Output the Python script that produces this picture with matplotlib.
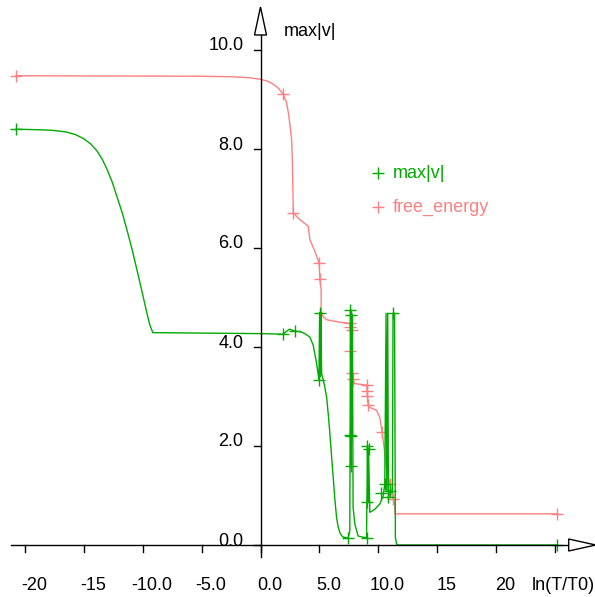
import matplotlib
matplotlib.use("Agg")
import matplotlib.pyplot as plt
from matplotlib.patches import Polygon

plt.rcParams['font.family'] = ['Liberation Sans', 'DejaVu Sans']

GREEN = '#00aa00'
PINK = '#ff8080'

# ---------------- DATA ----------------
x_ticks = [-20, -15, -10, -5, 0, 5, 10, 15, 20, 25]
x_tick_labels = ["-20", "-15", "-10.0", "-5.0", "0.0", "5.0", "10.0", "15", "20", ""]
y_ticks = [0, 2, 4, 6, 8, 10]
y_tick_labels = ["0.0", "2.0", "4.0", "6.0", "8.0", "10.0"]

# max|v| line
maxv_x = [-20.75, -19.0, -17.84, -17.0, -16.42, -15.7, -15.02, -14.4, -13.88, -13.45,
          -13.03, -12.6, -12.19, -11.75, -11.34, -10.9, -10.49, -10.05, -9.64, -9.40,
          -9.14, 0.04, 1.65, 1.91, 2.45, 2.92, 3.35, 3.77, 4.19, 4.47,
          4.76, 4.96, 5.02, 5.08, 5.12, 5.19, 5.32, 5.45, 5.61, 5.75,
          5.89, 6.03, 6.17, 6.31, 6.46, 6.60, 6.74, 6.88, 7.02, 7.44,
          7.58, 7.64, 7.68, 7.72, 7.76, 7.80, 7.86, 8.01, 8.29, 8.86,
          9.00, 9.08, 9.12, 9.17, 9.28, 9.70, 10.13, 10.41, 10.55, 10.66,
          10.72, 10.80, 10.86, 10.97, 11.20, 11.25, 11.38, 11.45, 11.57, 25.19]
maxv_y = [8.40, 8.39, 8.38, 8.36, 8.34, 8.29, 8.21, 8.10, 7.96, 7.80,
          7.59, 7.34, 7.04, 6.72, 6.37, 5.97, 5.56, 5.11, 4.68, 4.45,
          4.29, 4.27, 4.26, 4.26, 4.36, 4.32, 4.31, 4.27, 4.20, 4.04,
          3.67, 3.34, 4.70, 3.40, 4.70, 3.46, 3.34, 3.20, 2.99, 2.65,
          2.25, 1.80, 1.37, 0.93, 0.55, 0.36, 0.25, 0.19, 0.16, 0.14,
          0.28, 4.72, 1.60, 4.70, 2.20, 4.65, 0.76, 0.42, 0.18, 0.15,
          0.15, 2.01, 0.86, 1.95, 0.66, 0.72, 0.83, 0.99, 1.23, 4.68,
          1.10, 4.68, 0.96, 1.10, 1.05, 4.68, 4.68, 0.15, 0.00, 0.00]
# max|v| sample points
maxv_mx = [-20.75, 1.91, 2.92, 4.96, 5.05, 7.44, 7.64, 7.72, 7.64, 7.72, 7.72,
           9.00, 9.08, 9.19, 9.08, 10.27, 10.55, 10.83, 10.97, 11.25, 25.19]
maxv_my = [8.40, 4.26, 4.32, 3.34, 4.68, 0.14, 4.74, 4.64, 2.23, 2.21, 1.60,
           0.15, 2.01, 1.94, 0.86, 1.06, 1.23, 0.96, 1.10, 4.68, 0.00]

# free_energy line
fe_x = [-20.75, -5.0, -2.5, -1.0, -0.04, 0.6, 1.08, 1.5, 1.93, 2.2,
        2.36, 2.52, 2.64, 2.70, 2.73, 2.76, 2.78, 3.35, 4.05, 4.19,
        4.62, 4.98, 5.04, 5.15, 5.15, 5.30, 5.62, 6.75, 7.50, 7.58,
        7.62, 7.66, 7.68, 7.72, 7.81, 8.01, 8.71, 9.00, 9.05, 9.08,
        9.14, 9.28, 9.85, 10.13, 10.32, 10.49, 10.69, 10.97, 11.25, 11.40,
        11.42, 25.13]
fe_y = [9.48, 9.47, 9.46, 9.44, 9.41, 9.37, 9.31, 9.23, 9.11, 8.95,
        8.74, 8.45, 8.19, 7.80, 7.45, 7.05, 6.71, 6.57, 6.44, 6.17,
        5.93, 5.69, 5.37, 5.15, 4.75, 4.62, 4.55, 4.50, 4.48, 4.48,
        4.41, 4.34, 3.92, 3.47, 3.36, 3.26, 3.24, 3.23, 3.12, 3.02,
        2.82, 2.78, 2.72, 2.58, 2.28, 1.97, 1.57, 1.24, 0.93, 0.83,
        0.63, 0.63]
fe_mx = [-20.75, 1.93, 2.78, 4.98, 5.04, 7.58, 7.64, 7.73, 7.64, 7.73, 7.81,
         9.00, 9.08, 9.08, 9.14, 10.32, 10.97, 11.25, 25.13]
fe_my = [9.48, 9.11, 6.71, 5.69, 5.37, 4.48, 4.41, 4.34, 3.92, 3.47, 3.36,
         3.23, 3.12, 3.02, 2.82, 2.28, 1.24, 0.93, 0.63]

# ---------------- LAYOUT ----------------
PX_X = 11.78   # pixels per x unit
PX_Y = 49.5    # pixels per y unit
X0, Y0 = 260.5, 545.0
W, H = 595, 597

fig = plt.figure(figsize=(W / 100, H / 100), dpi=100)
ax = fig.add_axes([0, 0, 1, 1])
ax.set_xlim(-X0 / PX_X, (W - X0) / PX_X)
ax.set_ylim(-(H - Y0) / PX_Y, Y0 / PX_Y)
ax.axis("off")

def dx(p):
    return p / PX_X

def dy(p):
    return p / PX_Y

# ---------------- CURVES ----------------
ax.plot(fe_x, fe_y, color=PINK, lw=1.0, zorder=2)
ax.plot(fe_mx, fe_my, ls="none", marker="+", ms=8, mew=1.0, color=PINK, zorder=2)
ax.plot(maxv_x, maxv_y, color=GREEN, lw=1.0, zorder=3)
ax.plot(maxv_mx, maxv_my, ls="none", marker="+", ms=8, mew=1.0, color=GREEN, zorder=3)

# ---------------- AXES ----------------
x_left = -21.18
x_base = 26.16
ax.plot([x_left, x_base], [0, 0], color="black", lw=1.0, zorder=4)
ax.add_patch(Polygon([(x_base, -dy(6)), (x_base + dx(27), 0), (x_base, dy(6))],
                     closed=True, fc="white", ec="black", lw=1.0, zorder=5))
y_base = dy(Y0 - 35)
ax.plot([0, 0], [-dy(12), y_base], color="black", lw=1.0, zorder=4)
ax.add_patch(Polygon([(-dx(6), y_base), (0, y_base + dy(28)), (dx(6), y_base)],
                     closed=True, fc="white", ec="black", lw=1.0, zorder=5))

for t, lab in zip(x_ticks, x_tick_labels):
    ax.plot([t, t], [0, -dy(7)], color="black", lw=1.0, zorder=4)
    ax.text(t + dx(9), -dy(40), lab, ha="center", va="center", fontsize=13)
for t, lab in zip(y_ticks, y_tick_labels):
    ax.plot([-dx(7), 0], [t, t], color="black", lw=1.0, zorder=4)
    ax.text(-dx(17), t + dy(4), lab, ha="right", va="center", fontsize=13)

ax.text(25 - dx(23), -dy(40), "ln(T/T0)", ha="left", va="center", fontsize=13)
ax.text(dx(23), dy(Y0 - 31), "max|v|", ha="left", va="center", fontsize=13)

# ---------------- LEGEND ----------------
leg_x = dx(378 - X0)
for i, (name, col) in enumerate([("max|v|", GREEN), ("free_energy", PINK)]):
    ly = dy(Y0 - 173 - 34 * i)
    ax.plot([leg_x], [ly], ls="none", marker="+", ms=8, mew=1.0, color=col)
    ax.text(leg_x + dx(15), ly, name, ha="left", va="center", fontsize=13, color=col)

fig.savefig("out.png", dpi=100)
